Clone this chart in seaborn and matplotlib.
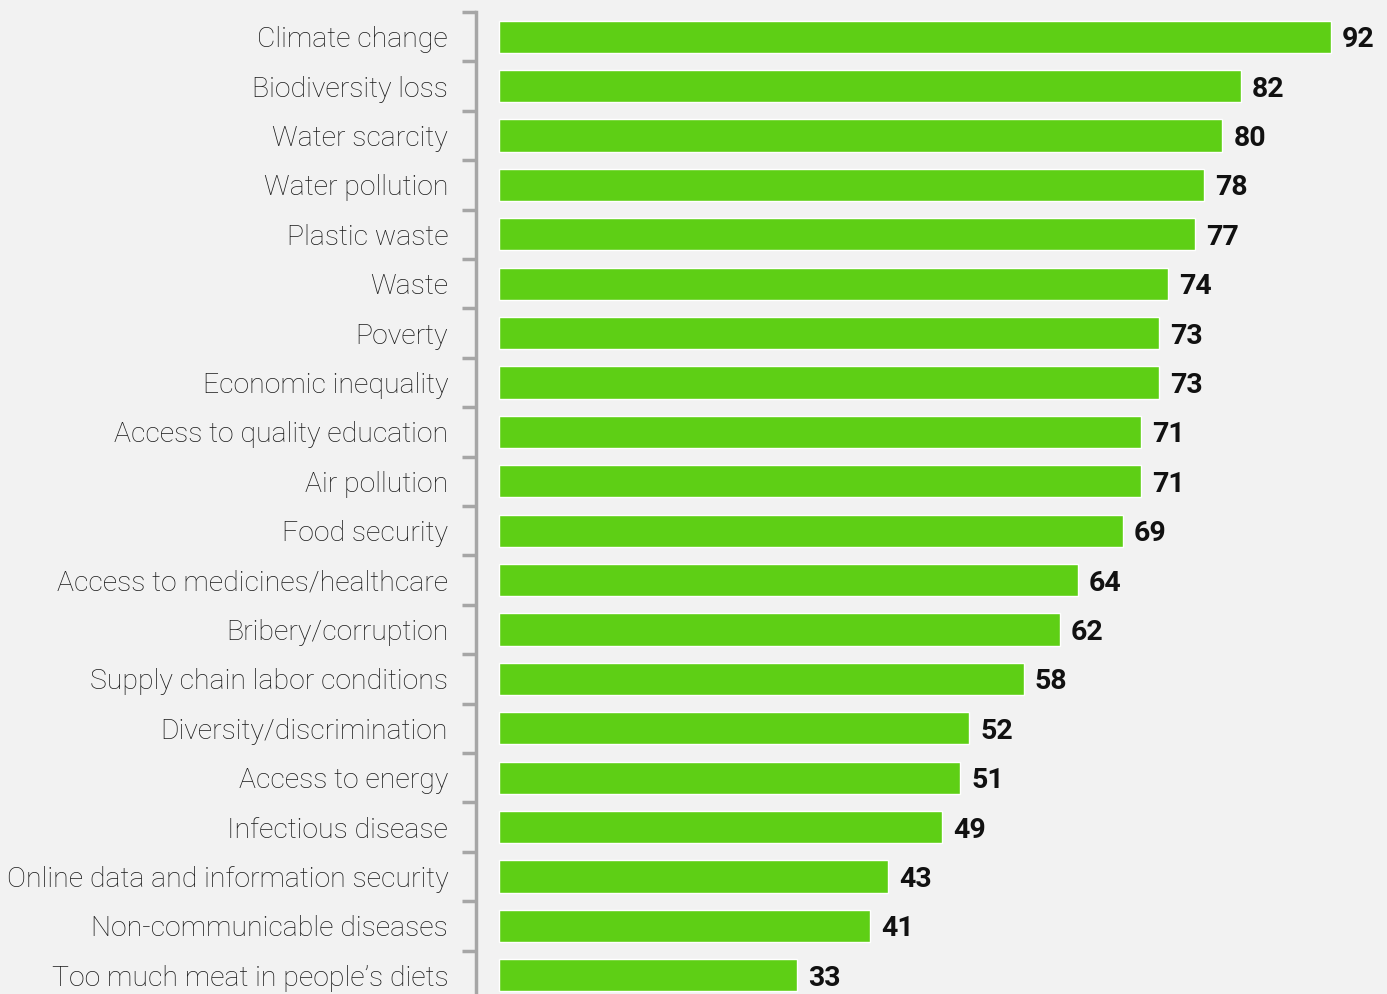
import numpy as np
import pandas as pd
import seaborn as sns
import matplotlib.pyplot as plt

issues = [
    "Climate change", "Biodiversity loss", "Water scarcity", "Water pollution",
    "Plastic waste", "Waste", "Poverty", "Economic inequality",
    "Access to quality education", "Air pollution", "Food security",
    "Access to medicines/healthcare", "Bribery/corruption",
    "Supply chain labor conditions", "Diversity/discrimination",
    "Access to energy", "Infectious disease",
    "Online data and information security", "Non-communicable diseases",
    "Too much meat in people\u2019s diets",
]
scores = [92, 82, 80, 78, 77, 74, 73, 73, 71, 71, 69, 64, 62, 58, 52, 51, 49, 43, 41, 33]

df = pd.DataFrame({"issue": issues, "score": scores})

sns.set_style("white")
plt.rcParams["font.family"] = ["Roboto", "DejaVu Sans"]

bg = "#f2f2f2"
fig = plt.figure(figsize=(13.87, 9.94), dpi=100, facecolor=bg)
ax = fig.add_axes([476 / 1387, 1 - 1000 / 994, (1387 - 476) / 1387, (1000 - 12) / 994])
ax.set_facecolor(bg)

sns.barplot(data=df, x="score", y="issue", color="#5ecf15", width=0.65,
            saturation=1, ax=ax)

vals = ax.bar_label(ax.containers[0], padding=8, fontsize=20.5,
                    fontweight="bold", color="#111111")
for t in vals:
    t.set_va("center_baseline")

s = 832 / 92
ax.set_xlim(-23 / s, (1387 - 476 - 23) / s)
ax.set_ylim(len(issues) - 0.5, -0.5)

for side in ["top", "right", "bottom"]:
    ax.spines[side].set_visible(False)
ax.spines["left"].set_color("#a6a6a6")
ax.spines["left"].set_linewidth(2.5)

ax.set_xticks([])
ax.set_yticks(np.arange(-0.5, len(issues), 1), minor=True)
ax.tick_params(axis="y", which="major", left=True, length=0, pad=20,
               labelsize=20.4, labelcolor="#1a1a1a")
ax.tick_params(axis="y", which="minor", left=True, length=10, width=2.5,
               color="#a6a6a6", direction="out")
for lab in ax.get_yticklabels():
    lab.set_fontweight("light")
ax.set_xlabel("")
ax.set_ylabel("")

fig.savefig("out.png", dpi=100, facecolor=bg)
